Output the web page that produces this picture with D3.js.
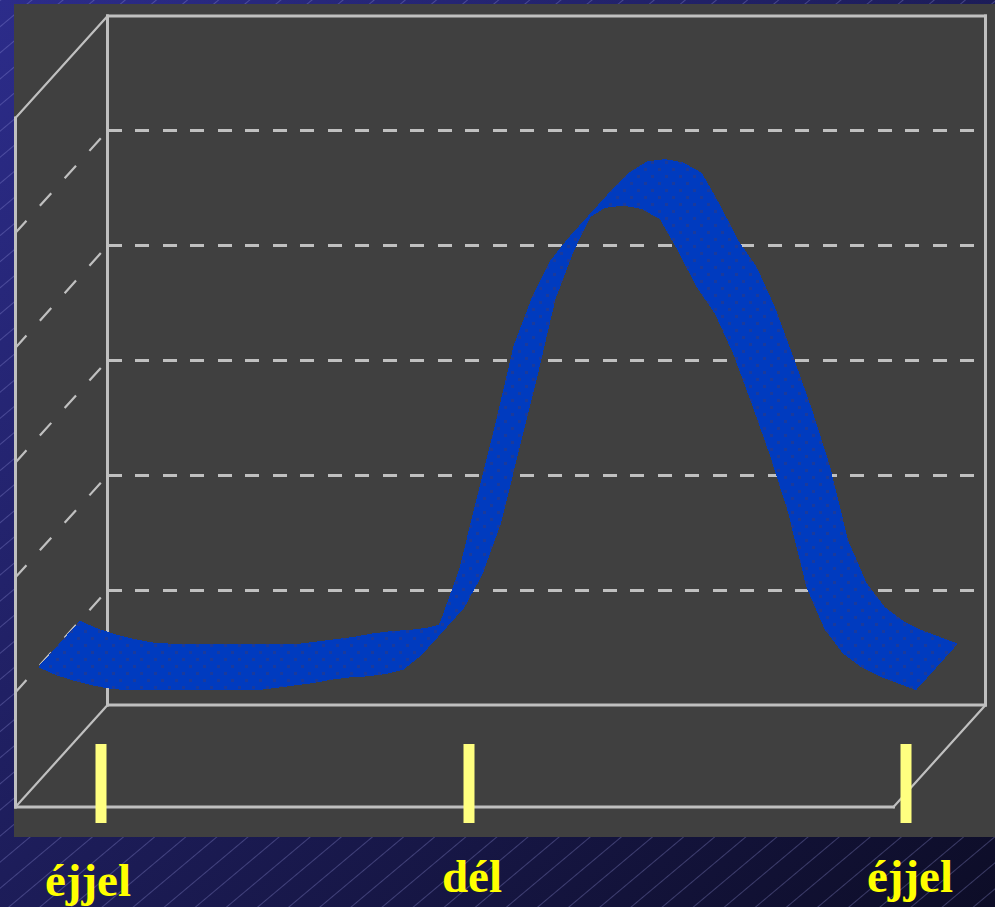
<!DOCTYPE html>
<html>
<head>
<meta charset="utf-8">
<script src="https://cdn.jsdelivr.net/npm/d3@7"></script>
<style>
  html, body { margin: 0; padding: 0; background: #1a1a50; overflow: hidden; }
  svg { display: block; }
</style>
</head>
<body>
<svg id="chart" width="995" height="907"></svg>
<script>
// Daily load curve, read every half hour (hour of day -> relative load)
const hours = [0, 0.5, 1, 1.5, 2, 2.5, 3, 3.5, 4, 4.5, 5, 5.5, 6, 6.5, 7, 7.5, 8, 8.5,
               9, 9.5, 10, 10.5, 11, 11.5, 12, 12.5, 13, 13.5, 14, 14.5, 15, 15.5, 16,
               16.5, 17, 17.5, 18, 18.5, 19, 19.5, 20, 20.5, 21, 21.5, 22, 22.5, 23, 23.5, 24];
const load = [1.00, 0.93, 0.88, 0.84, 0.81, 0.80, 0.80, 0.80, 0.80, 0.80, 0.80, 0.80, 0.80,
              0.82, 0.84, 0.86, 0.89, 0.91, 0.92, 0.94, 0.98, 1.11, 1.40, 1.84, 2.48, 3.12,
              3.80, 4.22, 4.54, 4.74, 4.90, 5.00, 5.02, 4.99, 4.90, 4.62, 4.31, 4.08, 3.73,
              3.30, 2.85, 2.35, 1.70, 1.33, 1.12, 1.00, 0.92, 0.86, 0.80];
// Value axis: gridline levels (no labels drawn)
const valueTicks = [0, 1, 2, 3, 4, 5, 6];
// Time-of-day captions under the floor
const timeLabels = ["éjjel", "dél", "éjjel"];

const W = 995, H = 907;
const svg = d3.select("#chart");
const defs = svg.append("defs");

// ---- slide background: navy gradient with fine diagonal hatching ----
const bg = defs.append("linearGradient").attr("id", "bgGrad")
  .attr("x1", "0").attr("y1", "0").attr("x2", "1").attr("y2", "1");
bg.append("stop").attr("offset", "0").attr("stop-color", "#2c2c8a");
bg.append("stop").attr("offset", "1").attr("stop-color", "#0d0d27");

const hatch = defs.append("pattern").attr("id", "hatch")
  .attr("patternUnits", "userSpaceOnUse")
  .attr("width", 40).attr("height", 20)
  .attr("patternTransform", "rotate(-40)");
hatch.append("line").attr("x1", 0).attr("x2", 40).attr("y1", 0.5).attr("y2", 0.5)
  .attr("stroke", "#9a9ae0").attr("stroke-opacity", 0.32).attr("stroke-width", 1);

// dithered blue used for the ribbon
const dots = defs.append("pattern").attr("id", "dots")
  .attr("patternUnits", "userSpaceOnUse").attr("width", 14).attr("height", 14);
dots.append("rect").attr("width", 14).attr("height", 14).attr("fill", "#003bbf");
dots.append("rect").attr("x", 0).attr("y", 0).attr("width", 3).attr("height", 3).attr("fill", "#1a3a9c");
dots.append("rect").attr("x", 7).attr("y", 7).attr("width", 3).attr("height", 3).attr("fill", "#1a3a9c");

svg.append("rect").attr("width", W).attr("height", H).attr("fill", "url(#bgGrad)");
svg.append("rect").attr("width", W).attr("height", H).attr("fill", "url(#hatch)");

// ---- chart panel ----
svg.append("rect").attr("x", 14).attr("y", 4).attr("width", 981).attr("height", 833)
  .attr("fill", "#404040");

// ---- oblique 3D projection ----
const origin = { x: 15.5, y: 807 };     // front-left corner of the floor
const depth = { x: 92, y: -102 };       // vector from front to back wall
const x = d3.scaleLinear().domain([0, 24]).range([0, 878]);
const y = d3.scaleLinear().domain([d3.min(valueTicks), d3.max(valueTicks)]).range([0, 689]);
const P = (t, v, z) => [origin.x + x(t) + z * depth.x, origin.y - y(v) + z * depth.y];

const tMin = hours[0], tMax = hours[hours.length - 1];
const vMin = d3.min(valueTicks), vMax = d3.max(valueTicks);
const gridVals = valueTicks.filter(v => v > vMin && v < vMax);
const lineCol = "#c0c0c0";

// gridlines on the back wall
svg.append("g").selectAll("line").data(gridVals).join("line")
  .attr("x1", v => P(tMin, v, 1)[0]).attr("y1", v => P(tMin, v, 1)[1])
  .attr("x2", v => P(tMax, v, 1)[0]).attr("y2", v => P(tMax, v, 1)[1])
  .attr("stroke", lineCol).attr("stroke-width", 3)
  .attr("stroke-dasharray", "14 13.5")
  .attr("shape-rendering", "crispEdges");

// gridlines on the side wall
svg.append("g").selectAll("line").data(gridVals).join("line")
  .attr("x1", v => P(tMin, v, 1)[0]).attr("y1", v => P(tMin, v, 1)[1])
  .attr("x2", v => P(tMin, v, 0)[0]).attr("y2", v => P(tMin, v, 0)[1])
  .attr("stroke", lineCol).attr("stroke-width", 2.2)
  .attr("stroke-dasharray", "17 20").attr("stroke-dashoffset", 27);

// wall and floor edges
const edge = (a, b, w) => svg.append("line")
  .attr("x1", a[0]).attr("y1", a[1]).attr("x2", b[0]).attr("y2", b[1])
  .attr("stroke", lineCol).attr("stroke-width", w).attr("stroke-linecap", "square");
edge(P(tMin, vMin, 1), P(tMin, vMax, 1), 3);   // back wall left
edge(P(tMin, vMax, 1), P(tMax, vMax, 1), 3);   // back wall top
edge(P(tMax, vMax, 1), P(tMax, vMin, 1), 3);   // back wall right
edge(P(tMin, vMin, 1), P(tMax, vMin, 1), 3);   // back wall bottom
edge(P(tMin, vMin, 0), P(tMin, vMax, 0), 3);   // side wall front
edge(P(tMin, vMax, 0), P(tMin, vMax, 1), 2.2); // side wall top
edge(P(tMin, vMin, 0), P(tMax, vMin, 0), 3);   // floor front
edge(P(tMin, vMin, 0), P(tMin, vMin, 1), 2.2); // floor left
edge(P(tMax, vMin, 0), P(tMax, vMin, 1), 2.2); // floor right

// ---- the load ribbon: one face per segment, between two depth planes ----
const zFront = 0.245, zBack = 0.70;
let ribbon = "";
for (let i = 0; i < hours.length - 1; i++) {
  const q = [
    P(hours[i], load[i], zFront), P(hours[i + 1], load[i + 1], zFront),
    P(hours[i + 1], load[i + 1], zBack), P(hours[i], load[i], zBack)
  ];
  if (d3.polygonArea(q) < 0) q.reverse();
  ribbon += "M" + q.map(p => p.join(",")).join("L") + "Z";
}
svg.append("path").attr("d", ribbon)
  .attr("fill", "url(#dots)").attr("fill-rule", "nonzero")
  .attr("shape-rendering", "crispEdges");

// ---- time-of-day markers and captions ----
const markers = [
  { label: timeLabels[0], bar: 101, text: 88,  base: 896 },
  { label: timeLabels[1], bar: 469, text: 472, base: 892 },
  { label: timeLabels[2], bar: 906, text: 910, base: 892 }
];
svg.append("g").selectAll("rect").data(markers).join("rect")
  .attr("x", d => d.bar - 5.5).attr("y", 744).attr("width", 11).attr("height", 79)
  .attr("fill", "#ffff80");
svg.append("g").selectAll("text").data(markers).join("text")
  .attr("x", d => d.text).attr("y", d => d.base)
  .attr("text-anchor", "middle")
  .attr("font-family", "'Liberation Serif', 'Times New Roman', serif")
  .attr("font-weight", "bold").attr("font-size", 47)
  .attr("fill", "#ffff00")
  .text(d => d.label);
</script>
</body>
</html>
